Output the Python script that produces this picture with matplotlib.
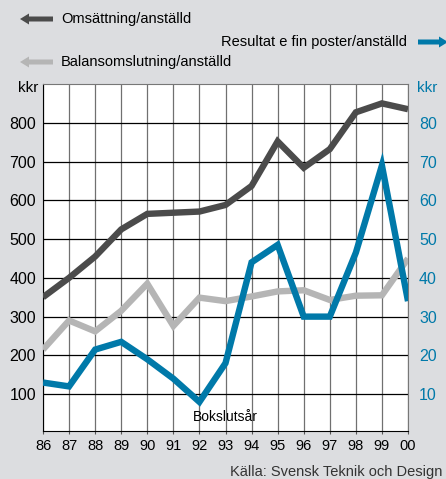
import matplotlib
matplotlib.use("Agg")
import matplotlib.pyplot as plt
from matplotlib import patches

years = ["86", "87", "88", "89", "90", "91", "92", "93", "94", "95", "96", "97", "98", "99", "00"]
omsattning = [350, 400, 455, 525, 565, 568, 571, 588, 637, 752, 684, 732, 827, 850, 835]
balans = [215, 290, 262, 315, 385, 276, 349, 340, 352, 365, 368, 343, 354, 355, 450]
resultat = [13, 12, 21.5, 23.5, 19, 14, 8, 18, 44, 48.5, 30, 30, 46.5, 69, 34]
left_ticks = [100, 200, 300, 400, 500, 600, 700, 800]
right_ticks = [10, 20, 30, 40, 50, 60, 70, 80]

DARK = "#4b4b4b"
GREY = "#b5b5b5"
BLUE = "#0079a9"
BG = "#dcdde0"

plt.rcParams["font.family"] = ["Liberation Sans", "DejaVu Sans"]

fig = plt.figure(figsize=(4.46, 4.79), dpi=100, facecolor=BG)
W, H = 446, 479
ax = fig.add_axes([43 / W, 1 - 431 / H, (408 - 43) / W, (431 - 84) / H])
ax.set_facecolor("white")

x = list(range(len(years)))
line_kw = dict(lw=4.6, solid_joinstyle="miter", solid_capstyle="butt", zorder=3)
ax.plot(x, omsattning, color=DARK, **line_kw)
ax.plot(x, balans, color=GREY, **line_kw)

ax.set_xlim(0, len(years) - 1)
ax.set_ylim(5, 900)
ax.set_xticks(x, labels=years)
ax.set_yticks(left_ticks)
ax.tick_params(axis="x", length=2, pad=4, labelsize=10.5, color="#555555")
ax.tick_params(axis="y", length=0, pad=5, labelsize=11.5)
ax.grid(axis="x", color="#707070", lw=0.9, zorder=1)
ax.grid(axis="y", color="black", lw=0.9, zorder=1)
for side in ["left", "bottom"]:
    ax.spines[side].set_color("black")
for side in ["top", "right"]:
    ax.spines[side].set_color("#777777")

# right axis for result per employee
ax2 = ax.twinx()
ax2.plot(x, resultat, color=BLUE, **line_kw)
ax2.set_ylim(0.5, 90)
ax2.set_yticks(right_ticks)
ax2.tick_params(axis="y", length=0, pad=8, labelsize=11.5, labelcolor=BLUE)
for sp in ax2.spines.values():
    sp.set_visible(False)

# axis unit labels
fig.text(38 / W, 1 - 88 / H, "kkr", ha="right", va="center", fontsize=11)
fig.text(417 / W, 1 - 88 / H, "kkr", ha="left", va="center", fontsize=11, color=BLUE)
ax.text(7, 40, "Bokslutsår", ha="center", va="center", fontsize=10, zorder=4)

# legend arrows
def arrow(x0, x1, y, colour):
    # coordinates in pixels, drawn in inches so the arrow keeps its shape
    d = 100.0
    fig.add_artist(patches.FancyArrow(x0 / d, (H - y) / d, (x1 - x0) / d, 0,
                                      width=5 / d, head_width=11 / d, head_length=9 / d,
                                      length_includes_head=True, color=colour, lw=0,
                                      transform=fig.dpi_scale_trans))

arrow(53, 20, 19, DARK)
arrow(418, 448, 42, BLUE)
arrow(53, 20, 62, GREY)
fig.text(61 / W, 1 - 19 / H, "Omsättning/anställd", ha="left", va="center", fontsize=10.5)
fig.text(407 / W, 1 - 42 / H, "Resultat e fin poster/anställd", ha="right", va="center", fontsize=10.5)
fig.text(61 / W, 1 - 62 / H, "Balansomslutning/anställd", ha="left", va="center", fontsize=10.5)

fig.text(442 / W, 1 - 472 / H, "Källa: Svensk Teknik och Design", ha="right", va="center",
         fontsize=10.5, color="#333333")

fig.savefig("out.png", dpi=100, facecolor=BG)
